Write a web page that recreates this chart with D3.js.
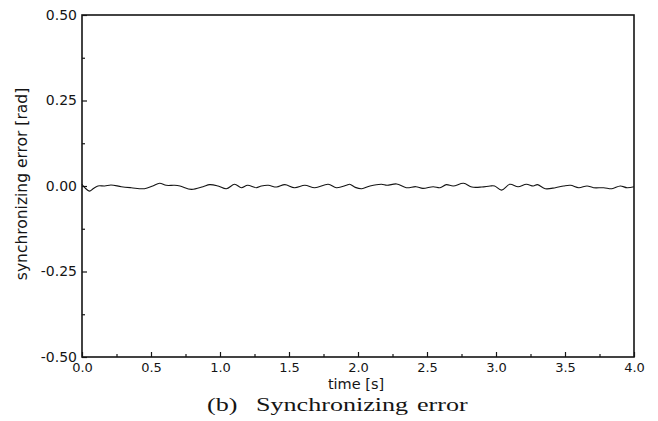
<!DOCTYPE html>
<html>
<head>
<meta charset="utf-8">
<script src="https://cdn.jsdelivr.net/npm/d3@7"></script>
<style>
	body { margin: 0; background: #fff; }
	svg { display: block; }
</style>
</head>
<body>
<div id="chart"></div>
<script>

// time [s] of the sampled points
var timeValues = [0.00, 0.02, 0.055, 0.08, 0.115, 0.165, 0.21, 0.285, 0.357, 0.453,
	0.513, 0.562, 0.61, 0.67, 0.71, 0.793, 0.877, 0.925, 0.986, 1.046,
	1.106, 1.155, 1.20, 1.263, 1.30, 1.35, 1.41, 1.47, 1.54, 1.615,
	1.687, 1.784, 1.844, 1.916, 1.94, 1.98, 2.027, 2.087, 2.17, 2.21,
	2.28, 2.35, 2.42, 2.47, 2.545, 2.594, 2.64, 2.69, 2.765, 2.825,
	2.897, 2.957, 2.99, 3.04, 3.10, 3.16, 3.22, 3.27, 3.30, 3.357,
	3.43, 3.49, 3.54, 3.60, 3.66, 3.707, 3.78, 3.84, 3.90, 3.95, 4.00];

// synchronizing error [rad]
var errorValues = [0.005, -0.005, -0.015, -0.008, 0.000, 0.000, 0.003, -0.002, -0.005, -0.008,
	0.000, 0.008, 0.002, 0.002, 0.000, -0.010, -0.002, 0.004, 0.000, -0.008,
	0.005, -0.005, 0.002, -0.005, 0.000, 0.002, -0.003, 0.004, -0.005, 0.002,
	-0.005, 0.005, -0.005, 0.002, 0.005, -0.004, -0.008, 0.000, 0.005, 0.002,
	0.006, -0.005, -0.002, -0.007, -0.002, -0.005, 0.004, 0.000, 0.008, -0.003,
	-0.003, 0.000, 0.000, -0.012, 0.005, -0.002, 0.005, 0.000, 0.004, -0.008,
	-0.005, 0.000, 0.002, -0.005, 0.000, -0.005, -0.005, -0.008, 0.000, -0.005, -0.002];

var xTickValues = [0, 0.5, 1, 1.5, 2, 2.5, 3, 3.5, 4];
var xMinorTickValues = [0.25, 0.75, 1.25, 1.75, 2.25, 2.75, 3.25, 3.75];
var yTickValues = [-0.5, -0.25, 0, 0.25, 0.5];
var yMinorTickValues = [-0.375, -0.125, 0.125, 0.375];

var width = 658;
var height = 421;
var plotLeft = 82, plotRight = 634, plotTop = 15, plotBottom = 357;
var ink = '#151515';

var svg = d3.select('#chart').append('svg')
		.attr('width', width)
		.attr('height', height);

var x = d3.scaleLinear().domain([0, 4]).range([plotLeft, plotRight]);
var y = d3.scaleLinear().domain([-0.5, 0.5]).range([plotBottom, plotTop]);

// plain hyphen for negatives, like the original plot
var fmt = function(p) {
	var f = d3.format('.' + p + 'f');
	return function(d) { return f(d).replace('\u2212', '-'); };
};

/**
 * Styles an axis group: no domain line, dark ticks and labels
 */
var styleAxis = function(g, fontSize) {
	g.select('.domain').remove();
	g.selectAll('.tick line').attr('stroke', ink).attr('stroke-width', 1.2);
	g.selectAll('.tick text')
			.attr('fill', ink)
			.style('font-family', '"DejaVu Sans", sans-serif')
			.style('font-size', fontSize + 'px');
};

// Bottom axis (ticks pointing inside)
svg.append('g')
		.attr('transform', 'translate(0,' + plotBottom + ')')
		.call(d3.axisBottom(x).tickValues(xTickValues).tickFormat(fmt(1))
				.tickSizeInner(-5).tickSizeOuter(0).tickPadding(6))
		.call(styleAxis, 13);

svg.append('g')
		.attr('transform', 'translate(0,' + plotBottom + ')')
		.call(d3.axisBottom(x).tickValues(xMinorTickValues).tickFormat('')
				.tickSizeInner(-3).tickSizeOuter(0))
		.call(styleAxis, 13);

// Left axis
svg.append('g')
		.attr('transform', 'translate(' + plotLeft + ',0)')
		.call(d3.axisLeft(y).tickValues(yTickValues).tickFormat(fmt(2))
				.tickSizeInner(-5).tickSizeOuter(0).tickPadding(5))
		.call(styleAxis, 14);

svg.append('g')
		.attr('transform', 'translate(' + plotLeft + ',0)')
		.call(d3.axisLeft(y).tickValues(yMinorTickValues).tickFormat('')
				.tickSizeInner(-3).tickSizeOuter(0))
		.call(styleAxis, 14);

// Frame
svg.append('rect')
		.attr('x', plotLeft)
		.attr('y', plotTop)
		.attr('width', plotRight - plotLeft)
		.attr('height', plotBottom - plotTop)
		.style('fill', 'none')
		.style('stroke', ink)
		.style('stroke-width', 1.6);

// Error curve
var data = timeValues.map(function(t, i) { return {t: t, v: errorValues[i]}; });

var errorLine = d3.line()
		.x(function(d) { return x(d.t); })
		.y(function(d) { return y(d.v); })
		.curve(d3.curveCatmullRom);

svg.append('path').datum(data)
		.style('fill', 'none')
		.style('stroke', ink)
		.style('stroke-width', 1.1)
		.attr('d', errorLine);

// Axis titles
svg.append('text')
		.attr('x', 356)
		.attr('y', 389)
		.attr('text-anchor', 'middle')
		.style('font-family', '"DejaVu Sans", sans-serif')
		.style('font-size', '14.5px')
		.style('fill', ink)
		.text('time [s]');

svg.append('text')
		.attr('transform', 'translate(27,184) rotate(-90)')
		.attr('text-anchor', 'middle')
		.style('font-family', '"DejaVu Sans", sans-serif')
		.style('font-size', '15.5px')
		.style('fill', ink)
		.text('synchronizing error [rad]');

// Caption: wide serif glyphs, stretched horizontally
var captionParts = [
	{text: '(b)', x: 207},
	{text: 'Synchronizing', x: 256},
	{text: 'error', x: 417}
];

svg.selectAll('.caption').data(captionParts).enter().append('text')
		.attr('class', 'caption')
		.attr('transform', function(d) { return 'translate(' + d.x + ',411) scale(1.45,1)'; })
		.style('font-family', '"Liberation Serif", "Times New Roman", serif')
		.style('font-size', '18px')
		.style('fill', ink)
		.text(function(d) { return d.text; });

</script>
</body>
</html>
